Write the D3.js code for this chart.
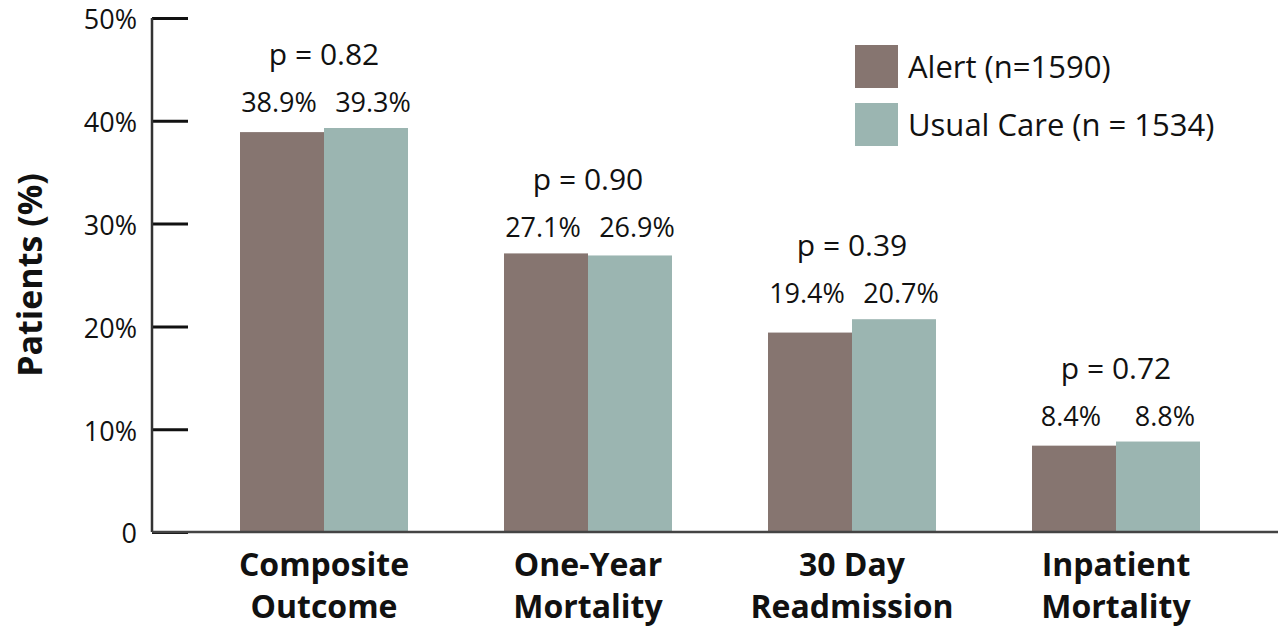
<!DOCTYPE html>
<html>
<head>
<meta charset="utf-8">
<script src="https://cdn.jsdelivr.net/npm/d3@7"></script>
<style>
  html, body { margin: 0; padding: 0; background: #fff; }
  svg { display: block; }
  text { font-family: "Open Sans", "DejaVu Sans", sans-serif; fill: #111; }
</style>
</head>
<body>
<svg id="chart" width="1278" height="630"></svg>
<script>
// Outcome categories (two-line labels)
const categories = ["Composite Outcome", "One-Year Mortality", "30 Day Readmission", "Inpatient Mortality"];
const categoryLines = [["Composite", "Outcome"], ["One-Year", "Mortality"], ["30 Day", "Readmission"], ["Inpatient", "Mortality"]];
const seriesNames = ["Alert (n=1590)", "Usual Care (n = 1534)"];
const alertValues = [38.9, 27.1, 19.4, 8.4];
const usualValues = [39.3, 26.9, 20.7, 8.8];
const pValues = ["p = 0.82", "p = 0.90", "p = 0.39", "p = 0.72"];
const yTicks = [0, 10, 20, 30, 40, 50];
const colors = ["#867570", "#9bb5b1"];

const svg = d3.select("#chart");

const axisX = 152, baseY = 532, topY = 18;

const y = d3.scaleLinear().domain([0, 50]).range([baseY, topY]);
const x0 = d3.scaleBand().domain(categories).range([192, 1248]).paddingInner(96 / 264).paddingOuter(48 / 264);
const x1 = d3.scaleBand().domain([0, 1]).range([0, x0.bandwidth()]);
const labelNudge = [-3, 7]; // spread the paired value labels slightly apart

// Bars, value labels and p-values
const series = [alertValues, usualValues];
categories.forEach((c, i) => {
  const top = y(Math.max(alertValues[i], usualValues[i]));
  series.forEach((vals, s) => {
    svg.append("rect")
      .attr("x", x0(c) + x1(s))
      .attr("y", y(vals[i]))
      .attr("width", x1.bandwidth())
      .attr("height", y(0) - y(vals[i]))
      .attr("fill", colors[s]);
    svg.append("text")
      .attr("x", x0(c) + x1(s) + x1.bandwidth() / 2 + labelNudge[s])
      .attr("y", top - 16)
      .attr("text-anchor", "middle")
      .attr("font-size", 27)
      .text(vals[i].toFixed(1) + "%");
  });
  svg.append("text")
    .attr("x", x0(c) + x0.bandwidth() / 2)
    .attr("y", top - 63)
    .attr("text-anchor", "middle")
    .attr("font-size", 30)
    .text(pValues[i]);
  // category label
  const t = svg.append("text")
    .attr("text-anchor", "middle")
    .attr("font-size", 32)
    .attr("font-weight", "bold");
  categoryLines[i].forEach((ln, k) => {
    t.append("tspan").attr("x", x0(c) + x0.bandwidth() / 2).attr("y", 576 + k * 42).text(ln);
  });
});

// Y axis with inward ticks
const yAxis = d3.axisRight(y).tickValues(yTicks).tickSize(36).tickFormat(() => "");
const gy = svg.append("g").attr("transform", `translate(${axisX},0)`).call(yAxis);
gy.select(".domain").remove();
gy.selectAll(".tick line").attr("stroke", "#111").attr("stroke-width", 3);
svg.append("line").attr("x1", axisX).attr("x2", axisX).attr("y1", topY).attr("y2", baseY)
  .attr("stroke", "#333").attr("stroke-width", 2.5);
svg.append("line").attr("x1", axisX).attr("x2", 1278).attr("y1", baseY).attr("y2", baseY)
  .attr("stroke", "#444").attr("stroke-width", 2.5);

yTicks.forEach(v => {
  svg.append("text")
    .attr("x", 137)
    .attr("y", y(v))
    .attr("dy", "0.42em")
    .attr("text-anchor", "end")
    .attr("font-size", 27)
    .text(v === 0 ? "0" : v + "%");
});

// Y axis title
svg.append("text")
  .attr("transform", "translate(42,275) rotate(-90)")
  .attr("text-anchor", "middle")
  .attr("font-size", 34)
  .attr("font-weight", "bold")
  .text("Patients (%)");

// Legend
seriesNames.forEach((n, s) => {
  const ly = 45 + s * 58;
  svg.append("rect").attr("x", 855).attr("y", ly).attr("width", 43).attr("height", 43).attr("fill", colors[s]);
  svg.append("text").attr("x", 908).attr("y", ly + 22).attr("dy", "0.35em")
    .attr("font-size", 31).text(n);
});
</script>
</body>
</html>
